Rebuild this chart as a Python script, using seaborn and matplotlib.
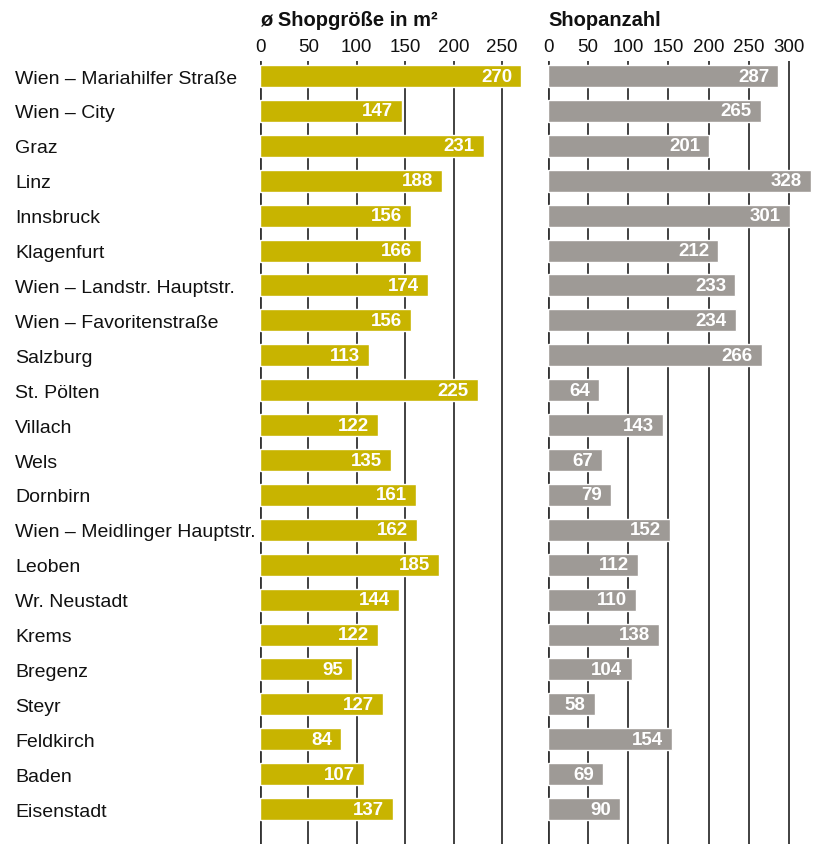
import matplotlib
matplotlib.use("Agg")
import matplotlib.pyplot as plt
import seaborn as sns
import pandas as pd

cities = ["Wien – Mariahilfer Straße", "Wien – City", "Graz", "Linz", "Innsbruck",
          "Klagenfurt", "Wien – Landstr. Hauptstr.", "Wien – Favoritenstraße", "Salzburg",
          "St. Pölten", "Villach", "Wels", "Dornbirn", "Wien – Meidlinger Hauptstr.",
          "Leoben", "Wr. Neustadt", "Krems", "Bregenz", "Steyr", "Feldkirch", "Baden",
          "Eisenstadt"]
shop_size = [270, 147, 231, 188, 156, 166, 174, 156, 113, 225, 122, 135, 161, 162,
             185, 144, 122, 95, 127, 84, 107, 137]
shop_count = [287, 265, 201, 328, 301, 212, 233, 234, 266, 64, 143, 67, 79, 152,
              112, 110, 138, 104, 58, 154, 69, 90]
ticks_size = [0, 50, 100, 150, 200, 250]
ticks_count = [0, 50, 100, 150, 200, 250, 300]

df = pd.DataFrame({"city": cities, "size": shop_size, "count": shop_count})

sns.set_theme(style="white")
plt.rcParams["font.family"] = ["Liberation Sans", "DejaVu Sans"]

W, H = 826, 845
fig = plt.figure(figsize=(W / 100, H / 100), dpi=100)

def px_axes(x0, x1, y0, y1):
    return fig.add_axes([x0 / W, 1 - y1 / H, (x1 - x0) / W, (y1 - y0) / H])

ax1 = px_axes(260, 531, 62, 845)
ax2 = px_axes(548, 813, 62, 845)

gold = "#C8B400"
gray = "#9E9A96"

panels = [(ax1, "size", gold, ticks_size, 280, "ø Shopgröße in m²"),
          (ax2, "count", gray, ticks_count, 330, "Shopanzahl")]

n = len(cities)
for ax, col, color, ticks, xmax, title in panels:
    sns.barplot(data=df, y="city", x=col, color=color, orient="h", width=0.63,
                saturation=1, ax=ax, zorder=3)
    ax.set_xlim(0, xmax)
    ax.set_ylim(n - 1 + 1.0, -0.43)
    ax.set_xticks(ticks)
    ax.xaxis.tick_top()
    ax.tick_params(axis="x", length=0, pad=4, labelsize=13.5, colors="#111111")
    ax.set_xlabel("")
    ax.set_ylabel("")
    for t in ticks:
        ax.axvline(t, color="#333333", lw=1.3 if t else 2.0, zorder=1)
    for s in ax.spines.values():
        s.set_visible(False)
    for i, v in enumerate(df[col]):
        ax.annotate(str(v), xy=(v, i), xytext=(-6.5, 0), textcoords="offset points",
                    ha="right", va="center", color="white",
                    fontsize=13.5, fontweight="bold", zorder=5)
    fig.text(ax.get_position().x0, 1 - 20 / H, title, ha="left", va="center",
             fontsize=14.5, fontweight="bold", color="#111111")

ax1.tick_params(axis="y", length=0, pad=245 * 0.72, labelsize=14, colors="#111111")
for lab in ax1.get_yticklabels():
    lab.set_horizontalalignment("left")
ax2.set_yticks([])

fig.savefig("out.png", dpi=100)
